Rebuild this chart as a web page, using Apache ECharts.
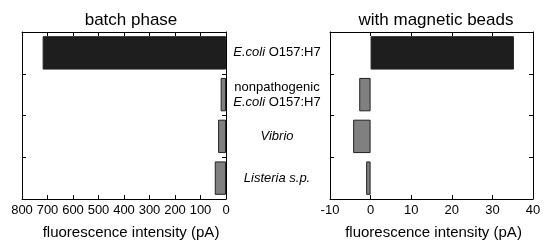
<!DOCTYPE html>
<html><head><meta charset="utf-8">
<script src="https://cdn.jsdelivr.net/npm/echarts@6/dist/echarts.min.js"></script>
<style>html,body{margin:0;padding:0;background:#fff}#c{width:550px;height:245px}</style>
</head><body><div id="c"></div>
<script>
const categories = ['{i|E.coli} O157:H7', 'nonpathogenic\n{i|E.coli} O157:H7', '{i|Vibrio}', '{i|Listeria s.p.}'];
const batchValues = [719, 21, 31, 44];
const beadValues = [35.3, -2.8, -4.3, -1.1];
const batchTicks = [0, 800, 100];
const beadTicks = [-10, 40, 10];
const titles = ['batch phase', 'with magnetic beads'];
const xName = 'fluorescence intensity (pA)';

const font = 'Arial, "Liberation Sans", sans-serif';
const dark = '#1e1e1e', gray = '#808080';
function colorFor(i){ return i === 0 ? dark : gray; }

const chart = echarts.init(document.getElementById('c'));
const tickInside = {show:true, inside:true, length:4, lineStyle:{color:'#000', width:1}};
const line = {show:true, onZero:false, lineStyle:{color:'#000', width:1}};

function xAxes(gi, t, inverse, namePad){
  return [
    {gridIndex:gi, type:'value', position:'bottom', min:t[0], max:t[1], interval:t[2], inverse:inverse,
     axisLine:line, axisTick:tickInside, splitLine:{show:false},
     axisLabel:{color:'#000', fontSize:13, fontFamily:font, margin:5},
     name:xName, nameLocation:'middle', nameGap:26,
     nameTextStyle:{color:'#000', fontSize:15, fontFamily:font, padding:namePad}},
    {gridIndex:gi, type:'value', position:'top', min:t[0], max:t[1], interval:t[2], inverse:inverse,
     axisLine:line, axisTick:tickInside, splitLine:{show:false}, axisLabel:{show:false}}
  ];
}
function yAxes(gi, withLabels){
  return [
    {gridIndex:gi, type:'category', data:categories, inverse:true, position:'left',
     axisLine:line, axisTick:tickInside, axisLabel:{show:false}},
    {gridIndex:gi, type:'category', data:categories, inverse:true, position:'right',
     axisLine:line, axisTick:tickInside,
     axisLabel: withLabels ? {show:true, align:'center', margin:51, color:'#000', fontSize:13, fontFamily:font, lineHeight:15,
       rich:{i:{fontStyle:'italic', color:'#000', fontSize:13, fontFamily:font, lineHeight:15}}} : {show:false}}
  ];
}

chart.setOption({
  animation:false,
  title:[
    {text:titles[0], left:126, textAlign:'center', top:7, textStyle:{fontSize:17, fontWeight:'normal', color:'#000', fontFamily:font}},
    {text:titles[1], left:431, textAlign:'center', top:7, textStyle:{fontSize:17, fontWeight:'normal', color:'#000', fontFamily:font}}
  ],
  grid:[
    {left:22, right:324, top:32, height:170},
    {left:330, right:17, top:32, height:170}
  ],
  xAxis:[...xAxes(0, batchTicks, true, [0,0,0,14]), ...xAxes(1, beadTicks, false, [0,0,0,4])],
  yAxis:[...yAxes(0, true), ...yAxes(1, false)],
  series:[
    {type:'bar', xAxisIndex:0, yAxisIndex:0, barWidth:'80%',
     data:batchValues.map((v,i)=>({value:v, itemStyle:{color:colorFor(i)}})),
     itemStyle:{borderColor:'#222', borderWidth:1}},
    {type:'bar', xAxisIndex:2, yAxisIndex:2, barWidth:'80%',
     data:beadValues.map((v,i)=>({value:v, itemStyle:{color:colorFor(i)}})),
     itemStyle:{borderColor:'#222', borderWidth:1}}
  ]
});
</script></body></html>
